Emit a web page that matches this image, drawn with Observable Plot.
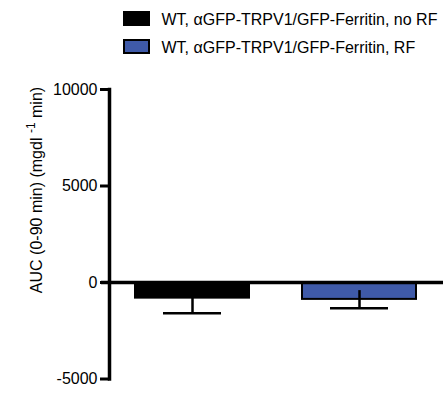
<!DOCTYPE html>
<html>
<head>
<meta charset="utf-8">
<script src="https://cdn.jsdelivr.net/npm/d3@7"></script>
<script src="https://cdn.jsdelivr.net/npm/@observablehq/plot@0.6"></script>
<style>
  html, body { margin: 0; padding: 0; background: #fff; }
</style>
</head>
<body>
<div id="wrap"></div>
<script>
const groups = ["WT, αGFP-TRPV1/GFP-Ferritin, no RF", "WT, αGFP-TRPV1/GFP-Ferritin, RF"];
const means = [-810, -875];
const sems = [780, 455];
const colors = ["#000000", "#3f5aa8"];
const yTicks = [-5000, 0, 5000, 10000];

const data = groups.map((g, i) => ({group: g, mean: means[i], lo: means[i] - sems[i], hi: means[i] + sems[i], color: colors[i]}));

const FONT = "Arial, 'Liberation Sans', sans-serif";

const chart = Plot.plot({
  width: 448,
  height: 394,
  marginTop: 89,
  marginBottom: 15.5,
  marginLeft: 109,
  marginRight: 5,
  style: {fontFamily: FONT, fontSize: "16px", background: "#fff", overflow: "visible"},
  x: {domain: groups, range: [134, 416], paddingInner: 0.32, paddingOuter: 0, axis: null},
  y: {domain: [-5000, 10000], ticks: yTicks, label: null},
  marks: [
    Plot.barY(data, {x: "group", y: "mean", fill: "color", stroke: "#000", strokeWidth: 2}),
    Plot.ruleX(data, {x: "group", y1: "lo", y2: "hi", stroke: "#000", strokeWidth: 2.5}),
    Plot.tickY(data, {x: "group", y: "lo", stroke: "#000", strokeWidth: 2.5, insetLeft: 28, insetRight: 28}),
    Plot.ruleY([0], {stroke: "#000", strokeWidth: 3.5, insetLeft: -8}),
    Plot.axisY({ticks: yTicks, tickSize: 9, tickPadding: 3, strokeWidth: 3, tickFormat: d => String(d), label: null, fontSize: 16, fill: "#000"}),
    Plot.frame({anchor: "left", stroke: "#000", strokeWidth: 3.5, strokeLinecap: "square"})
  ]
});

const svg = d3.select(chart);

// y-axis title with superscript
const lab = svg.append("text")
  .attr("transform", "translate(42,190) rotate(-90)")
  .attr("text-anchor", "middle")
  .attr("font-family", FONT)
  .attr("font-size", 16)
  .attr("fill", "#000");
lab.append("tspan").text("AUC (0-90 min) (mgdl ");
lab.append("tspan").attr("font-size", 12).attr("dy", -7).text("-1");
lab.append("tspan").attr("dy", 7).text(" min)");

// legend
const lg = svg.append("g").attr("font-family", FONT).attr("font-size", 16).attr("text-anchor", "start");
groups.forEach((g, i) => {
  const row = lg.append("g").attr("transform", `translate(123,${11 + i * 28})`);
  row.append("rect").attr("x", 1).attr("y", 1).attr("width", 25).attr("height", 13)
    .attr("fill", colors[i]).attr("stroke", "#000").attr("stroke-width", 2);
  row.append("text").attr("x", 38.5).attr("y", 14).attr("fill", "#000").attr("text-anchor", "start").text(g);
});

document.getElementById("wrap").appendChild(chart);
</script>
</body>
</html>
